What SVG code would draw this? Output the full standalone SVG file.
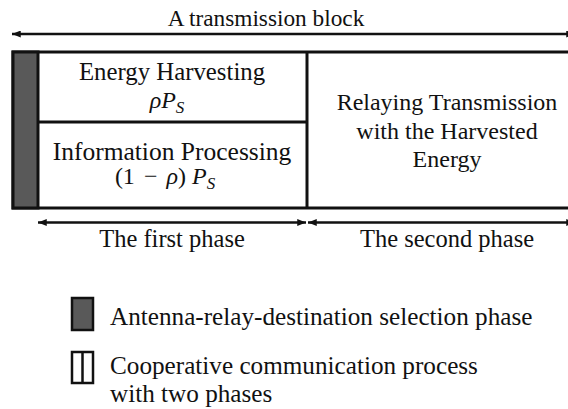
<svg xmlns="http://www.w3.org/2000/svg" width="568" height="409" viewBox="0 0 568 409">
  <style>
    text { font-family: 'Liberation Serif', 'DejaVu Serif', serif; fill: #111; }
    .t { font-size: 24.5px; }
    .lg { font-size: 25.2px; }
    .m { font-size: 24px; }
    .it { font-style: italic; }
    .sub { font-size: 17px; font-style: italic; }
    .box { fill: #fff; stroke: #111; stroke-width: 3; }
    .sel { fill: #595959; stroke: #111; stroke-width: 3; }
    .div { stroke: #111; stroke-width: 3; fill: none; }
    .arr { stroke: #111; stroke-width: 2.5; fill: none; marker-start: url(#tip); marker-end: url(#tip); }
  </style>
  <defs>
    <marker id="tip" viewBox="0 0 10 8" refX="10" refY="4" markerWidth="9" markerHeight="7" markerUnits="userSpaceOnUse" orient="auto-start-reverse">
      <path d="M0,0 L10,4 L0,8 Z" fill="#111"/>
    </marker>
  </defs>

  <rect width="568" height="409" fill="#fff"/>

  <!-- overall block label -->
  <g id="block-label">
    <text class="t" x="266" y="26" text-anchor="middle" style="font-size:23.3px">A transmission block</text>
  </g>

  <!-- selection slot -->
  <g id="selection-slot">
    <rect class="box" x="13" y="52" width="570" height="156"/>
    <rect class="sel" x="13" y="52" width="25" height="156"/>
  </g>

  <!-- first phase: power splitting -->
  <g id="energy-harvesting">
    <line class="div" x1="38" y1="122" x2="307" y2="122"/>
    <text class="t" x="172" y="80" text-anchor="middle" style="font-size:24.8px">Energy Harvesting</text>
    <text class="m it" x="167" y="108" text-anchor="middle">ρ<tspan>P</tspan><tspan class="sub" dy="5">S</tspan></text>
  </g>
  <g id="information-processing">
    <text class="t" x="172" y="160" text-anchor="middle" style="font-size:25.5px">Information Processing</text>
    <text class="m" x="165" y="184" text-anchor="middle">(1<tspan dx="9">−</tspan><tspan class="it" dx="9">ρ</tspan>)<tspan class="it" dx="6">P</tspan><tspan class="sub" dy="5">S</tspan></text>
  </g>

  <!-- second phase: relaying -->
  <g id="relaying-transmission">
    <line class="div" x1="307" y1="52" x2="307" y2="208"/>
    <text class="t" x="447" y="110" text-anchor="middle" style="font-size:24px">Relaying Transmission</text>
    <text class="t" x="447" y="139" text-anchor="middle" style="font-size:24px">with the Harvested</text>
    <text class="t" x="447" y="167" text-anchor="middle" style="font-size:24px">Energy</text>
  </g>

  <!-- duration arrows -->
  <g id="connectors">
    <line class="arr" x1="12" y1="34" x2="575" y2="34"/>
    <line class="arr" x1="38" y1="222.5" x2="306" y2="222.5"/>
    <line class="arr" x1="308" y1="222.5" x2="575" y2="222.5"/>
  </g>

  <g id="phase-labels">
    <text class="t" x="172" y="247" text-anchor="middle">The first phase</text>
    <text class="t" x="447" y="247" text-anchor="middle">The second phase</text>
  </g>

  <!-- legend -->
  <g id="legend-selection">
    <rect x="72" y="298" width="21" height="32" fill="#595959" stroke="#111" stroke-width="2.5"/>
    <text class="lg" x="110" y="325">Antenna-relay-destination selection phase</text>
  </g>
  <g id="legend-cooperative">
    <rect x="72" y="352" width="21" height="31" fill="#fff" stroke="#111" stroke-width="2.5"/>
    <line x1="82.5" y1="352" x2="82.5" y2="383" stroke="#111" stroke-width="2.5"/>
    <text class="lg" x="110" y="374">Cooperative communication process</text>
    <text class="lg" x="110" y="402">with two phases</text>
  </g>
</svg>
